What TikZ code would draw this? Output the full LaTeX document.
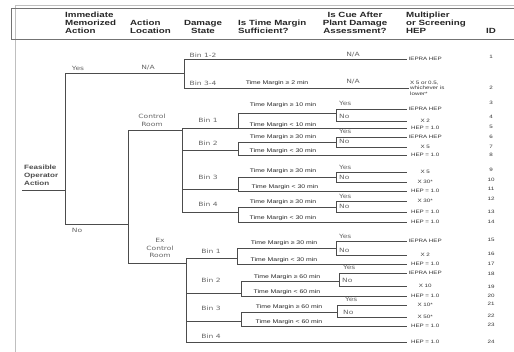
\documentclass[tikz,border=0pt]{standalone}
\usepackage{fontspec}
\newfontfamily\arialfont[FakeStretch=1.3]{Liberation Sans}
\newfontfamily\verdfont[FakeStretch=1.3]{DejaVu Sans}

\begin{document}
\begin{tikzpicture}[
        x=1pt, y=-1pt,
        branch/.style={draw=black!70, line width=0.6pt},
        frame/.style={draw=black!55, line width=0.6pt},
        header/.style={font=\arialfont\bfseries\fontsize{7.5}{8}\selectfont, text=black!85, inner sep=0pt, anchor=south west, align=left},
        rootlbl/.style={font=\arialfont\bfseries\fontsize{6.2}{8}\selectfont, text=black!70, inner sep=0pt, anchor=south west, align=left},
        tag/.style={font=\verdfont\fontsize{5.8}{7.8}\selectfont, text=black!60, inner sep=0pt, align=center},
        cue/.style={tag, anchor=base west},
        margin/.style={font=\arialfont\fontsize{5.3}{6}\selectfont, text=black!85, inner sep=0pt},
        mult/.style={font=\arialfont\fontsize{4.8}{5.4}\selectfont, text=black!80, text width=34pt, align=center, inner sep=1pt, anchor=west},
        idno/.style={font=\arialfont\fontsize{4.8}{5}\selectfont, text=black!80, inner sep=0pt}
    ]
        \useasboundingbox (0,0) rectangle (514,352);

        % page frame and header box
        \draw[black!25, line width=0.5pt] (514,5) -- (15,5) -- (15,352);
        \draw[frame] (514,8) -- (11,8) -- (11,39) -- (514,39);
        \node[header] (h_mem) at (65,33.8) {Immediate\\Memorized\\Action};
        \node[header] (h_loc) at (130,33.8) {Action\\Location};
        \node[header, anchor=south, align=center] (h_dmg) at (203,33.8) {Damage\\State};
        \node[header] (h_tm) at (238,33.8) {Is Time Margin\\Sufficient?};
        \node[header, anchor=south, align=center] (h_cue) at (355,33.8) {Is Cue After\\Plant Damage\\Assessment?};
        \node[header] (h_mult) at (406,33.8) {Multiplier\\or Screening\\HEP};
        \node[header, anchor=south] (h_id) at (491,33.8) {ID};

        % multipliers / screening HEP
        \node[mult] (m1) at (407,59) {IEPRA HEP};
        \node[mult, align=left, text width=44pt] (m2) at (409,88) {X 5 or 0.5,\\whichever is\\lower*};
        \node[mult] (m3) at (407,109) {IEPRA HEP};
        \node[mult] (m4) at (407,121) {X 2};
        \node[mult] (m5) at (407,128) {HEP = 1.0};
        \node[mult] (m6) at (407,137) {IEPRA HEP};
        \node[mult] (m7) at (407,147) {X 5};
        \node[mult] (m8) at (407,155) {HEP = 1.0};
        \node[mult] (m9) at (407,172) {X 5};
        \node[mult] (m10) at (407,182) {X 30*};
        \node[mult] (m11) at (407,191) {HEP = 1.0};
        \node[mult] (m12) at (407,201) {X 30*};
        \node[mult] (m13) at (407,212) {HEP = 1.0};
        \node[mult] (m14) at (407,222) {HEP = 1.0};
        \node[mult] (m15) at (407,241) {IEPRA HEP};
        \node[mult] (m16) at (407,255) {X 2};
        \node[mult] (m17) at (407,264) {HEP = 1.0};
        \node[mult] (m18) at (407,273) {IEPRA HEP};
        \node[mult] (m19) at (407,286) {X 10};
        \node[mult] (m20) at (407,296) {HEP = 1.0};
        \node[mult] (m21) at (407,305) {X 10*};
        \node[mult] (m22) at (407,317) {X 50*};
        \node[mult] (m23) at (407,326) {HEP = 1.0};
        \node[mult] (m24) at (407,342) {HEP = 1.0};

        % IDs
        \node[idno] (i1) at (491,57) {1};
        \node[idno] (i2) at (491,88) {2};
        \node[idno] (i3) at (491,103) {3};
        \node[idno] (i4) at (491,117) {4};
        \node[idno] (i5) at (491,127) {5};
        \node[idno] (i6) at (491,137) {6};
        \node[idno] (i7) at (491,147) {7};
        \node[idno] (i8) at (491,155) {8};
        \node[idno] (i9) at (491,170) {9};
        \node[idno] (i10) at (491,180) {10};
        \node[idno] (i11) at (491,189) {11};
        \node[idno] (i12) at (491,199) {12};
        \node[idno] (i13) at (491,212) {13};
        \node[idno] (i14) at (491,222) {14};
        \node[idno] (i15) at (491,240) {15};
        \node[idno] (i16) at (491,254) {16};
        \node[idno] (i17) at (491,264) {17};
        \node[idno] (i18) at (491,274) {18};
        \node[idno] (i19) at (491,287) {19};
        \node[idno] (i20) at (491,296) {20};
        \node[idno] (i21) at (491,304) {21};
        \node[idno] (i22) at (491,316) {22};
        \node[idno] (i23) at (491,325) {23};
        \node[idno] (i24) at (491,342) {24};

        % Memorized action: yes / no
        \node[rootlbl] (foa) at (24,185.5) {Feasible\\Operator\\Action};
        \coordinate (fo) at (22,190);
        \coordinate (ma) at (65,190);
        \coordinate (bn) at (184,73);
        \coordinate (loc) at (128,224);
        \draw[branch] (fo) -- (ma) |- (bn);
        \draw[branch] (ma) |- (loc);
        \node[tag] (ma_yes) at (78,68) {Yes};
        \node[tag] (ma_no) at (77,230) {No};
        \node[tag] (loc_na) at (148,68) {N/A};

        % Yes: damage state bins
        \draw[branch] (bn) |- (m1);
        \draw[branch] (bn) |- (m2);
        \node[tag] (b12) at (203,55) {Bin 1-2};
        \node[tag] (b34) at (203,83) {Bin 3-4};
        \node[margin] (tm2) at (277,83) {Time Margin ≥ 2 min};
        \node[tag] (cue1) at (353,55) {N/A};
        \node[tag] (cue2) at (353,82) {N/A};

        % No: action location
        \coordinate (cr) at (182,130);
        \coordinate (ecr) at (186,263);
        \draw[branch] (loc) |- (cr);
        \draw[branch] (loc) |- (ecr);
        \node[tag] (cr_lbl) at (152,120) {Control\\Room};
        \node[tag] (ecr_lbl) at (160,248) {Ex\\Control\\Room};

        % Control Room bins
        \coordinate (cb1) at (238,128);
        \coordinate (cb2) at (238,150);
        \coordinate (cb3) at (238,189);
        \coordinate (cb4) at (238,212);
        \draw[branch] (cr) |- (cb1);
        \draw[branch] (cr) |- (cb2);
        \draw[branch] (cr) |- (cb3);
        \draw[branch] (cr) |- (cb4);
        \node[tag] (cb1_lbl) at (208,120) {Bin 1};
        \node[tag] (cb2_lbl) at (208,143) {Bin 2};
        \node[tag] (cb3_lbl) at (208,177) {Bin 3};
        \node[tag] (cb4_lbl) at (208,204) {Bin 4};

        \coordinate (cy1) at (336,113);
        \coordinate (cy2) at (336,142);
        \coordinate (cy3) at (336,177);
        \coordinate (cy4) at (336,207);
        \draw[branch] (cb1) |- (cy1);
        \draw[branch] (cb1) |- (m5);
        \draw[branch] (cy1) |- (m3);
        \draw[branch] (cy1) |- (m4);
        \draw[branch] (cb2) |- (cy2);
        \draw[branch] (cb2) |- (m8);
        \draw[branch] (cy2) |- (m6);
        \draw[branch] (cy2) |- (m7);
        \draw[branch] (cb3) |- (cy3);
        \draw[branch] (cb3) |- (m11);
        \draw[branch] (cy3) |- (m9);
        \draw[branch] (cy3) |- (m10);
        \draw[branch] (cb4) |- (cy4);
        \draw[branch] (cb4) |- (m14);
        \draw[branch] (cy4) |- (m12);
        \draw[branch] (cy4) |- (m13);

        \node[margin] (tm3) at (283,105) {Time Margin ≥ 10 min};
        \node[margin] (tm5) at (283,125) {Time Margin < 10 min};
        \node[margin] (tm6) at (283,137) {Time Margin ≥ 30 min};
        \node[margin] (tm8) at (283,151) {Time Margin < 30 min};
        \node[margin] (tm9) at (283,171) {Time Margin ≥ 30 min};
        \node[margin] (tm11) at (285,187) {Time Margin < 30 min};
        \node[margin] (tm12) at (283,202) {Time Margin ≥ 30 min};
        \node[margin] (tm14) at (283,218) {Time Margin < 30 min};

        \node[cue] (cue3) at (339,106) {Yes};
        \node[cue] (cue4) at (339,118.5) {No};
        \node[cue] (cue6) at (339,133.5) {Yes};
        \node[cue] (cue7) at (339,144) {No};
        \node[cue] (cue9) at (339,169.5) {Yes};
        \node[cue] (cue10) at (339,179.5) {No};
        \node[cue] (cue12) at (339,198.5) {Yes};
        \node[cue] (cue13) at (339,209) {No};

        % Ex Control Room bins
        \coordinate (eb1) at (237,258);
        \coordinate (eb2) at (241,293);
        \coordinate (eb3) at (241,321);
        \draw[branch] (ecr) |- (eb1);
        \draw[branch] (ecr) |- (eb2);
        \draw[branch] (ecr) |- (eb3);
        \draw[branch] (ecr) |- (m24);
        \node[tag] (eb1_lbl) at (211,251) {Bin 1};
        \node[tag] (eb2_lbl) at (211,280) {Bin 2};
        \node[tag] (eb3_lbl) at (211,308) {Bin 3};
        \node[tag] (eb4_lbl) at (211,336) {Bin 4};

        \coordinate (ey1) at (336,248);
        \coordinate (ey2) at (339,281);
        \coordinate (ey3) at (337,312);
        \draw[branch] (eb1) |- (ey1);
        \draw[branch] (eb1) |- (m17);
        \draw[branch] (ey1) |- (m15);
        \draw[branch] (ey1) |- (m16);
        \draw[branch] (eb2) |- (ey2);
        \draw[branch] (eb2) |- (m20);
        \draw[branch] (ey2) |- (m18);
        \draw[branch] (ey2) |- (m19);
        \draw[branch] (eb3) |- (ey3);
        \draw[branch] (eb3) |- (m23);
        \draw[branch] (ey3) |- (m21);
        \draw[branch] (ey3) |- (m22);

        \node[margin] (tm15) at (284,243) {Time Margin ≥ 30 min};
        \node[margin] (tm17) at (284,260) {Time Margin < 30 min};
        \node[margin] (tm18) at (287,277) {Time Margin ≥ 60 min};
        \node[margin] (tm20) at (287,292) {Time Margin < 60 min};
        \node[margin] (tm21) at (289,307) {Time Margin ≥ 60 min};
        \node[margin] (tm23) at (289,322) {Time Margin < 60 min};

        \node[cue] (cue15) at (339,238.5) {Yes};
        \node[cue] (cue16) at (339,252.5) {No};
        \node[cue] (cue18) at (343,270) {Yes};
        \node[cue] (cue19) at (342,283) {No};
        \node[cue] (cue21) at (345,302) {Yes};
        \node[cue] (cue22) at (343,314.5) {No};

    \end{tikzpicture}
\end{document}
